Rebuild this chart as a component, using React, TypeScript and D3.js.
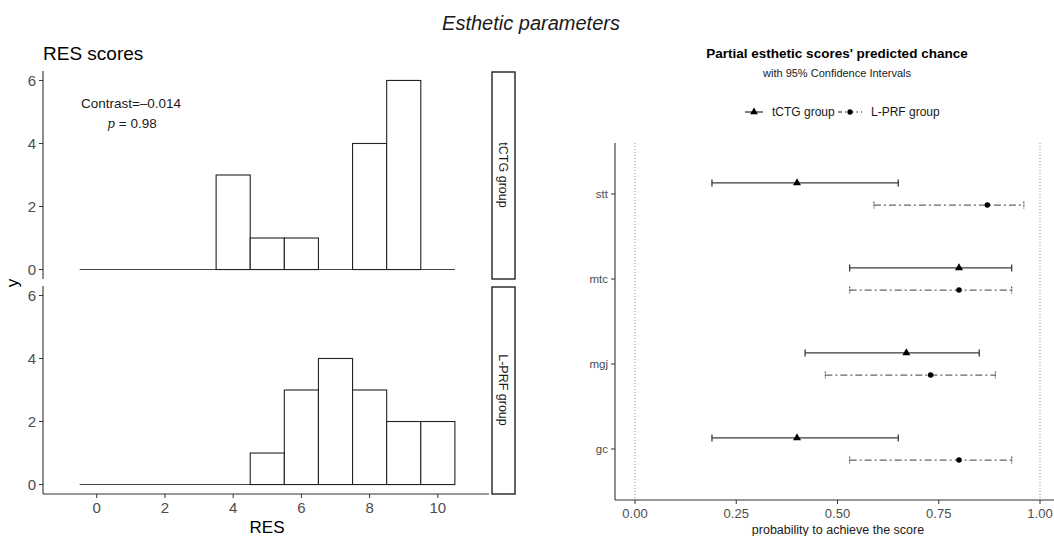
import React, {useRef, useEffect} from 'react';
import * as d3 from 'd3';

// histogram data (RES score bins, counts per group)
const resBins = [0, 1, 2, 3, 4, 5, 6, 7, 8, 9, 10];
const tctgCounts = [0, 0, 0, 0, 3, 1, 1, 0, 4, 6, 0];
const lprfCounts = [0, 0, 0, 0, 0, 1, 3, 4, 3, 2, 2];
const histYTicks = [0, 2, 4, 6];
const histXTicks = [0, 2, 4, 6, 8, 10];
const groupNames = ["tCTG group", "L-PRF group"];

// partial scores, predicted chance with 95% CI
const scoreItems = ["stt", "mtc", "mgj", "gc"];
const tctgEst = [0.40, 0.80, 0.67, 0.40];
const tctgLo = [0.19, 0.53, 0.42, 0.19];
const tctgHi = [0.65, 0.93, 0.85, 0.65];
const lprfEst = [0.87, 0.80, 0.73, 0.80];
const lprfLo = [0.59, 0.53, 0.47, 0.53];
const lprfHi = [0.96, 0.93, 0.89, 0.93];
const probTicks = [0, 0.25, 0.5, 0.75, 1];

const FONT = "'Liberation Sans', Arial, sans-serif";

export default function App() {
  const ref = useRef<SVGSVGElement>(null);

  useEffect(() => {
    const width = 1054;
    const height = 536;
    const svg = d3.select(ref.current)
      .attr("width", width)
      .attr("height", height)
      .style("font-family", FONT);
    svg.selectAll("*").remove();

    svg.append("rect").attr("width", width).attr("height", height).attr("fill", "white");

    // overall title
    svg.append("text")
      .attr("x", 531).attr("y", 30)
      .attr("text-anchor", "middle")
      .attr("font-size", 20)
      .attr("font-style", "italic")
      .attr("fill", "#1a1a1a")
      .text("Esthetic parameters");

    // ---------- left: histograms ----------
    const left = 43, right = 489;
    const x = d3.scaleLinear().domain([-1.575, 11.5]).range([left, right]);
    const panels = [
      {top: 71, bottom: 279, counts: tctgCounts, name: groupNames[0]},
      {top: 286, bottom: 494, counts: lprfCounts, name: groupNames[1]},
    ];

    svg.append("text")
      .attr("x", 43).attr("y", 60)
      .attr("font-size", 19)
      .attr("fill", "#000")
      .text("RES scores");

    panels.forEach((p, pi) => {
      const y = d3.scaleLinear().domain([-0.3, 6.3]).range([p.bottom, p.top]);
      const g = svg.append("g");

      // zero-count bins collapse onto the baseline
      g.append("line")
        .attr("x1", x(resBins[0] - 0.5)).attr("x2", x(resBins[resBins.length - 1] + 0.5))
        .attr("y1", y(0)).attr("y2", y(0))
        .attr("stroke", "#444").attr("stroke-width", 1.1);

      g.selectAll("rect.bar")
        .data(resBins.filter((d, i) => p.counts[i] > 0))
        .enter()
        .append("rect")
        .attr("class", "bar")
        .attr("x", d => x(d - 0.5))
        .attr("width", d => x(d + 0.5) - x(d - 0.5))
        .attr("y", d => y(p.counts[resBins.indexOf(d)]))
        .attr("height", d => y(0) - y(p.counts[resBins.indexOf(d)]))
        .attr("fill", "white")
        .attr("stroke", "#222")
        .attr("stroke-width", 1.1);

      // y axis
      g.append("line")
        .attr("x1", left).attr("x2", left)
        .attr("y1", p.top).attr("y2", p.bottom)
        .attr("stroke", "#333").attr("stroke-width", 1.1);
      histYTicks.forEach(t => {
        g.append("line")
          .attr("x1", left - 4).attr("x2", left)
          .attr("y1", y(t)).attr("y2", y(t))
          .attr("stroke", "#333");
        g.append("text")
          .attr("x", left - 7).attr("y", y(t))
          .attr("dy", "0.36em")
          .attr("text-anchor", "end")
          .attr("font-size", 15)
          .attr("fill", "#4d4d4d")
          .text(t);
      });

      // strip
      g.append("rect")
        .attr("x", 492).attr("y", p.top + 1)
        .attr("width", 23).attr("height", p.bottom - p.top - 1)
        .attr("fill", "white")
        .attr("stroke", "#222").attr("stroke-width", 1.4);
      g.append("text")
        .attr("transform", `translate(${503.5},${(p.top + p.bottom) / 2}) rotate(90)`)
        .attr("text-anchor", "middle")
        .attr("dy", "0.35em")
        .attr("font-size", 12.5)
        .attr("fill", "#1a1a1a")
        .text(p.name);

      if (pi === 1) {
        g.append("line")
          .attr("x1", left).attr("x2", right)
          .attr("y1", p.bottom).attr("y2", p.bottom)
          .attr("stroke", "#333").attr("stroke-width", 1.1);
        histXTicks.forEach(t => {
          g.append("line")
            .attr("x1", x(t)).attr("x2", x(t))
            .attr("y1", p.bottom).attr("y2", p.bottom + 4)
            .attr("stroke", "#333");
          g.append("text")
            .attr("x", x(t)).attr("y", p.bottom + 19)
            .attr("text-anchor", "middle")
            .attr("font-size", 15)
            .attr("fill", "#4d4d4d")
            .text(t);
        });
      }
    });

    svg.append("text")
      .attr("transform", "translate(18,283) rotate(-90)")
      .attr("text-anchor", "middle")
      .attr("font-size", 17)
      .text("y");
    svg.append("text")
      .attr("x", 267).attr("y", 533)
      .attr("text-anchor", "middle")
      .attr("font-size", 17)
      .text("RES");

    // annotation
    svg.append("text")
      .attr("x", 131).attr("y", 108)
      .attr("text-anchor", "middle")
      .attr("font-size", 13.5)
      .attr("fill", "#1a1a1a")
      .text("Contrast=\u20130.014");
    const pt = svg.append("text")
      .attr("x", 132).attr("y", 128)
      .attr("text-anchor", "middle")
      .attr("font-size", 13.5)
      .attr("fill", "#1a1a1a");
    pt.append("tspan").attr("font-family", "'DejaVu Serif', serif").attr("font-style", "italic").attr("font-size", 12).text("p");
    pt.append("tspan").text(" = 0.98");

    // ---------- right: forest plot ----------
    const fx = d3.scaleLinear().domain([0, 1]).range([635, 1040]);
    const fy = d3.scaleLinear().domain([0.4, 4.6]).range([143, 500]);
    const rg = svg.append("g");

    rg.append("text")
      .attr("x", 837).attr("y", 58)
      .attr("text-anchor", "middle")
      .attr("font-size", 13.5)
      .attr("font-weight", "bold")
      .text("Partial esthetic scores' predicted chance");
    rg.append("text")
      .attr("x", 837).attr("y", 77)
      .attr("text-anchor", "middle")
      .attr("font-size", 11)
      .attr("fill", "#1a1a1a")
      .text("with 95% Confidence Intervals");

    // reference lines
    [0, 1].forEach(v => {
      rg.append("line")
        .attr("x1", fx(v)).attr("x2", fx(v))
        .attr("y1", 143).attr("y2", 500)
        .attr("stroke", "#888")
        .attr("stroke-width", 0.9)
        .attr("stroke-dasharray", "1,2");
    });

    const series = [
      {est: tctgEst, lo: tctgLo, hi: tctgHi, off: -0.13, color: "#3a3a3a", dash: null, shape: d3.symbolTriangle},
      {est: lprfEst, lo: lprfLo, hi: lprfHi, off: 0.13, color: "#666", dash: "7,3,2,3", shape: d3.symbolCircle},
    ];

    series.forEach(s => {
      scoreItems.forEach((c, i) => {
        const yy = fy(i + 1 + s.off);
        rg.append("line")
          .attr("x1", fx(s.lo[i])).attr("x2", fx(s.hi[i]))
          .attr("y1", yy).attr("y2", yy)
          .attr("stroke", s.color).attr("stroke-width", 1.3)
          .attr("stroke-dasharray", s.dash);
        [s.lo[i], s.hi[i]].forEach(v => {
          rg.append("line")
            .attr("x1", fx(v)).attr("x2", fx(v))
            .attr("y1", yy - 3.5).attr("y2", yy + 3.5)
            .attr("stroke", s.color).attr("stroke-width", 1.3)
            .attr("stroke-dasharray", s.dash ? "2,1" : null);
        });
        rg.append("path")
          .attr("transform", `translate(${fx(s.est[i])},${yy})`)
          .attr("d", d3.symbol().type(s.shape).size(s.shape === d3.symbolTriangle ? 28 : 24)())
          .attr("fill", "#000");
      });
    });

    // axes
    rg.append("line")
      .attr("x1", 615).attr("x2", 615).attr("y1", 143).attr("y2", 500)
      .attr("stroke", "#333").attr("stroke-width", 1.1);
    rg.append("line")
      .attr("x1", 615).attr("x2", width).attr("y1", 500).attr("y2", 500)
      .attr("stroke", "#333").attr("stroke-width", 1.1);
    scoreItems.forEach((c, i) => {
      rg.append("line")
        .attr("x1", 611).attr("x2", 615)
        .attr("y1", fy(i + 1)).attr("y2", fy(i + 1))
        .attr("stroke", "#333");
      rg.append("text")
        .attr("x", 608).attr("y", fy(i + 1))
        .attr("dy", "0.36em")
        .attr("text-anchor", "end")
        .attr("font-size", 11.5)
        .attr("fill", "#4d4d4d")
        .text(c);
    });
    probTicks.forEach(t => {
      rg.append("line")
        .attr("x1", fx(t)).attr("x2", fx(t))
        .attr("y1", 500).attr("y2", 504)
        .attr("stroke", "#333");
      rg.append("text")
        .attr("x", fx(t)).attr("y", 518)
        .attr("text-anchor", "middle")
        .attr("font-size", 13)
        .attr("fill", "#4d4d4d")
        .text(d3.format(".2f")(t));
    });
    rg.append("text")
      .attr("x", 838).attr("y", 534)
      .attr("text-anchor", "middle")
      .attr("font-size", 12.5)
      .attr("fill", "#1a1a1a")
      .text("probability to achieve the score");

    // legend
    const legend = [
      {label: groupNames[0], x0: 745, x1: 763, tx: 772, s: series[0]},
      {label: groupNames[1], x0: 838, x1: 862, tx: 871, s: series[1]},
    ];
    legend.forEach(l => {
      rg.append("line")
        .attr("x1", l.x0).attr("x2", l.x1)
        .attr("y1", 112).attr("y2", 112)
        .attr("stroke", l.s.color).attr("stroke-width", 1.3)
        .attr("stroke-dasharray", l.s.dash ? "4,3,1.5,3" : null);
      rg.append("path")
        .attr("transform", `translate(${(l.x0 + l.x1) / 2},112)`)
        .attr("d", d3.symbol().type(l.s.shape).size(l.s.shape === d3.symbolTriangle ? 26 : 22)())
        .attr("fill", "#000");
      rg.append("text")
        .attr("x", l.tx).attr("y", 112)
        .attr("dy", "0.36em")
        .attr("font-size", 12)
        .attr("fill", "#1a1a1a")
        .text(l.label);
    });
  }, []);

  return (
    <div style={{position: "absolute", left: 0, top: 0}}>
      <svg ref={ref} style={{display: "block"}} />
    </div>
  );
}
